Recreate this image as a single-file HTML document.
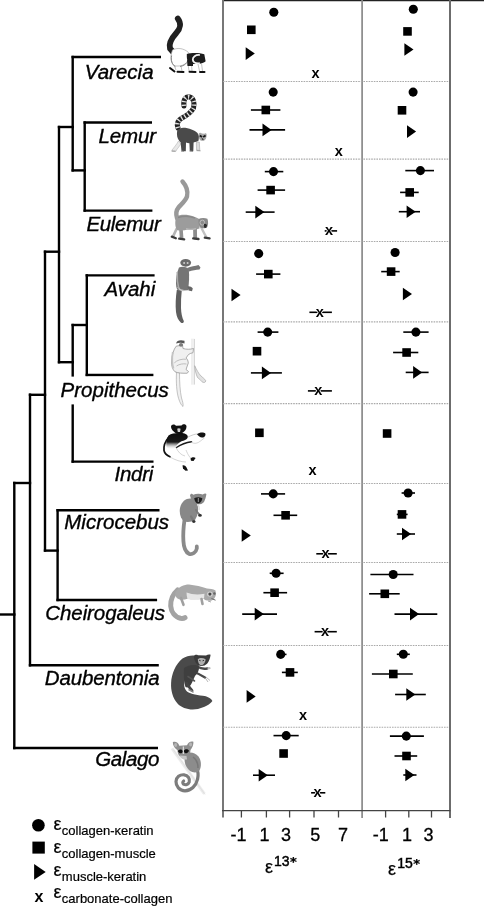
<!DOCTYPE html><html><head><meta charset="utf-8"><style>html,body{margin:0;padding:0;background:#fff;overflow:hidden;}svg{display:block;}text{font-family:"Liberation Sans",Arial,sans-serif;}</style></head><body>
<svg width="484" height="909" viewBox="0 0 484 909">
<rect width="484" height="909" fill="#fff"/>
<g stroke="#3a3a3a" fill="none">
<line x1="222" y1="0.6" x2="484" y2="0.6" stroke="#222" stroke-width="1.4"/>
<line x1="223" y1="0" x2="223" y2="817.5" stroke-width="2" stroke="#777"/>
<line x1="362.1" y1="0" x2="362.1" y2="818" stroke-width="1.7" stroke="#8a8a8a"/>
<line x1="450" y1="0" x2="450" y2="818" stroke-width="2" stroke="#6c6c6c"/>
<line x1="222" y1="810.6" x2="450.4" y2="810.6" stroke-width="1.3" stroke="#444"/>
<line x1="241.4" y1="810.6" x2="241.4" y2="817.5" stroke-width="1.3" stroke="#444"/>
<line x1="266.4" y1="810.6" x2="266.4" y2="817.5" stroke-width="1.3" stroke="#444"/>
<line x1="289.6" y1="810.6" x2="289.6" y2="817.5" stroke-width="1.3" stroke="#444"/>
<line x1="314.0" y1="810.6" x2="314.0" y2="817.5" stroke-width="1.3" stroke="#444"/>
<line x1="338.5" y1="810.6" x2="338.5" y2="817.5" stroke-width="1.3" stroke="#444"/>
<line x1="385.6" y1="810.6" x2="385.6" y2="817.5" stroke-width="1.3" stroke="#444"/>
<line x1="408.8" y1="810.6" x2="408.8" y2="817.5" stroke-width="1.3" stroke="#444"/>
<line x1="431.5" y1="810.6" x2="431.5" y2="817.5" stroke-width="1.3" stroke="#444"/>
</g>
<g stroke="#aaa" stroke-width="1.1" stroke-dasharray="1.6,1.0">
<line x1="223" y1="81.5" x2="449" y2="81.5"/>
<line x1="223" y1="159.1" x2="449" y2="159.1"/>
<line x1="223" y1="241.5" x2="449" y2="241.5"/>
<line x1="223" y1="321.9" x2="449" y2="321.9"/>
<line x1="223" y1="403.6" x2="449" y2="403.6"/>
<line x1="223" y1="483.5" x2="449" y2="483.5"/>
<line x1="223" y1="562.5" x2="449" y2="562.5"/>
<line x1="223" y1="645.5" x2="449" y2="645.5"/>
<line x1="223" y1="727.2" x2="449" y2="727.2"/>
</g>
<g stroke="#000" stroke-width="2.4" stroke-linecap="square" fill="none">
<line x1="72.7" y1="57" x2="159.8" y2="57"/>
<line x1="72.7" y1="57" x2="72.7" y2="170.4"/>
<line x1="72.7" y1="170.4" x2="84.7" y2="170.4"/>
<line x1="84.7" y1="122.5" x2="84.7" y2="210.6"/>
<line x1="84.7" y1="122.5" x2="150.8" y2="122.5"/>
<line x1="84.7" y1="210.6" x2="151.2" y2="210.6"/>
<line x1="59" y1="127" x2="72.7" y2="127"/>
<line x1="59" y1="127" x2="59" y2="362.2"/>
<line x1="59" y1="362.2" x2="72.7" y2="362.2"/>
<line x1="72.7" y1="325" x2="72.7" y2="461.6"/>
<line x1="72.7" y1="325" x2="86.8" y2="325"/>
<line x1="86.8" y1="275.4" x2="86.8" y2="375"/>
<line x1="86.8" y1="275.4" x2="153.4" y2="275.4"/>
<line x1="86.8" y1="375" x2="152.2" y2="375"/>
<line x1="72.7" y1="461.6" x2="152.3" y2="461.6"/>
<line x1="45" y1="251.7" x2="59" y2="251.7"/>
<line x1="45" y1="251.7" x2="45" y2="550.6"/>
<line x1="45" y1="550.6" x2="57.6" y2="550.6"/>
<line x1="57.6" y1="510.2" x2="57.6" y2="600"/>
<line x1="57.6" y1="510.2" x2="158.3" y2="510.2"/>
<line x1="57.6" y1="600" x2="155.9" y2="600"/>
<line x1="30" y1="394.8" x2="45" y2="394.8"/>
<line x1="30" y1="394.8" x2="30" y2="665.2"/>
<line x1="30" y1="665.2" x2="157.6" y2="665.2"/>
<line x1="14.3" y1="483" x2="30" y2="483"/>
<line x1="14.3" y1="483" x2="14.3" y2="748"/>
<line x1="14.3" y1="748" x2="156.8" y2="748"/>
<line x1="-2" y1="614.5" x2="14.3" y2="614.5"/>
</g>
<rect x="60" y="376.6" width="110.5" height="27.8" fill="#fff"/>
<g font-style="italic" font-size="20.5" fill="#000" stroke="#000" stroke-width="0.35">
<text x="84.8" y="79.4" letter-spacing="0">Varecia</text>
<text x="98.5" y="142.7" letter-spacing="-0.15">Lemur</text>
<text x="86.5" y="230.5" letter-spacing="-0.35">Eulemur</text>
<text x="104.4" y="296.4" letter-spacing="0">Avahi</text>
<text x="60.6" y="397.2" letter-spacing="0">Propithecus</text>
<text x="114.6" y="481.4" letter-spacing="-0.3">Indri</text>
<text x="64.3" y="528.9" letter-spacing="0">Microcebus</text>
<text x="45.3" y="620.4" letter-spacing="-0.09">Cheirogaleus</text>
<text x="44.8" y="685.4" letter-spacing="-0.15">Daubentonia</text>
<text x="95.2" y="766.4" letter-spacing="-0.4">Galago</text>
</g>
<circle cx="273.8" cy="12.3" r="4.55" fill="#000"/>
<rect x="247.00" y="25.50" width="8.6" height="8.6" fill="#000"/>
<path d="M245.70 47.30L254.80 53.60L245.70 59.90Z" fill="#000"/>
<text x="315.6" y="78.20" font-size="14.5" font-weight="bold" text-anchor="middle" fill="#000" stroke="#fff" stroke-width="1.6" paint-order="stroke">x</text>
<line x1="250.9" y1="110" x2="280.4" y2="110" stroke="#000" stroke-width="1.6"/>
<line x1="249.5" y1="129.9" x2="285.1" y2="129.9" stroke="#000" stroke-width="1.6"/>
<circle cx="273.2" cy="92.1" r="4.55" fill="#000"/>
<rect x="261.50" y="105.70" width="8.6" height="8.6" fill="#000"/>
<path d="M262.50 123.60L271.60 129.90L262.50 136.20Z" fill="#000"/>
<text x="338.9" y="156.10" font-size="14.5" font-weight="bold" text-anchor="middle" fill="#000" stroke="#fff" stroke-width="1.6" paint-order="stroke">x</text>
<line x1="264.8" y1="171.6" x2="283.3" y2="171.6" stroke="#000" stroke-width="1.6"/>
<line x1="257.6" y1="190.1" x2="285.1" y2="190.1" stroke="#000" stroke-width="1.6"/>
<line x1="245.7" y1="212.1" x2="274.6" y2="212.1" stroke="#000" stroke-width="1.6"/>
<line x1="324.7" y1="230.9" x2="337.1" y2="230.9" stroke="#000" stroke-width="1.6"/>
<circle cx="273.5" cy="171.6" r="4.55" fill="#000"/>
<rect x="266.30" y="185.80" width="8.6" height="8.6" fill="#000"/>
<path d="M255.30 205.80L264.40 212.10L255.30 218.40Z" fill="#000"/>
<text x="329" y="235.10" font-size="14.5" font-weight="bold" text-anchor="middle" fill="#000" stroke="#fff" stroke-width="1.6" paint-order="stroke">x</text>
<line x1="256.1" y1="274.1" x2="280.4" y2="274.1" stroke="#000" stroke-width="1.6"/>
<line x1="309.4" y1="312.3" x2="331.9" y2="312.3" stroke="#000" stroke-width="1.6"/>
<circle cx="258.7" cy="253.6" r="4.55" fill="#000"/>
<rect x="264.00" y="269.80" width="8.6" height="8.6" fill="#000"/>
<path d="M231.50 288.70L240.60 295.00L231.50 301.30Z" fill="#000"/>
<text x="319.8" y="316.50" font-size="14.5" font-weight="bold" text-anchor="middle" fill="#000" stroke="#fff" stroke-width="1.6" paint-order="stroke">x</text>
<line x1="257.6" y1="332.1" x2="278.4" y2="332.1" stroke="#000" stroke-width="1.6"/>
<line x1="250.9" y1="372.9" x2="281.9" y2="372.9" stroke="#000" stroke-width="1.6"/>
<line x1="307.9" y1="390.9" x2="331.9" y2="390.9" stroke="#000" stroke-width="1.6"/>
<circle cx="267.7" cy="332.1" r="4.55" fill="#000"/>
<rect x="252.70" y="346.90" width="8.6" height="8.6" fill="#000"/>
<path d="M261.90 366.60L271.00 372.90L261.90 379.20Z" fill="#000"/>
<text x="318.3" y="395.10" font-size="14.5" font-weight="bold" text-anchor="middle" fill="#000" stroke="#fff" stroke-width="1.6" paint-order="stroke">x</text>
<rect x="255.10" y="428.50" width="8.6" height="8.6" fill="#000"/>
<text x="312.5" y="475.10" font-size="14.5" font-weight="bold" text-anchor="middle" fill="#000" stroke="#fff" stroke-width="1.6" paint-order="stroke">x</text>
<line x1="261" y1="493.9" x2="285.1" y2="493.9" stroke="#000" stroke-width="1.6"/>
<line x1="273.5" y1="515.3" x2="297.2" y2="515.3" stroke="#000" stroke-width="1.6"/>
<line x1="316.3" y1="553.8" x2="336.8" y2="553.8" stroke="#000" stroke-width="1.6"/>
<circle cx="273.2" cy="493.9" r="4.55" fill="#000"/>
<rect x="281.30" y="511.00" width="8.6" height="8.6" fill="#000"/>
<path d="M241.70 529.20L250.80 535.50L241.70 541.80Z" fill="#000"/>
<text x="325.6" y="558.00" font-size="14.5" font-weight="bold" text-anchor="middle" fill="#000" stroke="#fff" stroke-width="1.6" paint-order="stroke">x</text>
<line x1="269.7" y1="573.3" x2="283.6" y2="573.3" stroke="#000" stroke-width="1.6"/>
<line x1="263.4" y1="592.7" x2="287.1" y2="592.7" stroke="#000" stroke-width="1.6"/>
<line x1="242.2" y1="614.1" x2="277" y2="614.1" stroke="#000" stroke-width="1.6"/>
<line x1="314.6" y1="631.7" x2="336.8" y2="631.7" stroke="#000" stroke-width="1.6"/>
<circle cx="276.1" cy="573.3" r="4.55" fill="#000"/>
<rect x="270.30" y="588.40" width="8.6" height="8.6" fill="#000"/>
<path d="M254.70 607.80L263.80 614.10L254.70 620.40Z" fill="#000"/>
<text x="325" y="635.90" font-size="14.5" font-weight="bold" text-anchor="middle" fill="#000" stroke="#fff" stroke-width="1.6" paint-order="stroke">x</text>
<line x1="279" y1="654.4" x2="286.5" y2="654.4" stroke="#000" stroke-width="1.6"/>
<line x1="281.9" y1="672.4" x2="297.8" y2="672.4" stroke="#000" stroke-width="1.6"/>
<circle cx="280.7" cy="654.4" r="4.55" fill="#000"/>
<rect x="285.70" y="668.10" width="8.6" height="8.6" fill="#000"/>
<path d="M246.60 690.10L255.70 696.40L246.60 702.70Z" fill="#000"/>
<text x="303" y="720.00" font-size="14.5" font-weight="bold" text-anchor="middle" fill="#000" stroke="#fff" stroke-width="1.6" paint-order="stroke">x</text>
<line x1="273.5" y1="735.6" x2="298.7" y2="735.6" stroke="#000" stroke-width="1.6"/>
<line x1="253" y1="775.2" x2="275" y2="775.2" stroke="#000" stroke-width="1.6"/>
<line x1="311.1" y1="792.8" x2="325.3" y2="792.8" stroke="#000" stroke-width="1.6"/>
<circle cx="286.2" cy="735.6" r="4.55" fill="#000"/>
<rect x="279.30" y="749.20" width="8.6" height="8.6" fill="#000"/>
<path d="M258.70 768.90L267.80 775.20L258.70 781.50Z" fill="#000"/>
<text x="317.5" y="797.00" font-size="14.5" font-weight="bold" text-anchor="middle" fill="#000" stroke="#fff" stroke-width="1.6" paint-order="stroke">x</text>
<circle cx="413.3" cy="9.3" r="4.55" fill="#000"/>
<rect x="403.20" y="27.10" width="8.6" height="8.6" fill="#000"/>
<path d="M404.40 43.20L413.50 49.50L404.40 55.80Z" fill="#000"/>
<circle cx="413.1" cy="92.1" r="4.55" fill="#000"/>
<rect x="397.70" y="106.00" width="8.6" height="8.6" fill="#000"/>
<path d="M407.00 125.30L416.10 131.60L407.00 137.90Z" fill="#000"/>
<line x1="405.3" y1="170.6" x2="434" y2="170.6" stroke="#000" stroke-width="1.6"/>
<line x1="400.1" y1="192.4" x2="418.7" y2="192.4" stroke="#000" stroke-width="1.6"/>
<line x1="398.8" y1="211.7" x2="420" y2="211.7" stroke="#000" stroke-width="1.6"/>
<circle cx="420.4" cy="170.6" r="4.55" fill="#000"/>
<rect x="405.40" y="188.10" width="8.6" height="8.6" fill="#000"/>
<path d="M406.60 205.40L415.70 211.70L406.60 218.00Z" fill="#000"/>
<line x1="381.2" y1="271.6" x2="399.7" y2="271.6" stroke="#000" stroke-width="1.6"/>
<circle cx="395.1" cy="252.5" r="4.55" fill="#000"/>
<rect x="386.80" y="267.30" width="8.6" height="8.6" fill="#000"/>
<path d="M402.90 287.70L412.00 294.00L402.90 300.30Z" fill="#000"/>
<line x1="403.3" y1="332.1" x2="428.6" y2="332.1" stroke="#000" stroke-width="1.6"/>
<line x1="393.1" y1="352.5" x2="418.3" y2="352.5" stroke="#000" stroke-width="1.6"/>
<line x1="405.7" y1="372.4" x2="428.6" y2="372.4" stroke="#000" stroke-width="1.6"/>
<circle cx="415.9" cy="332.1" r="4.55" fill="#000"/>
<rect x="402.30" y="348.20" width="8.6" height="8.6" fill="#000"/>
<path d="M413.10 366.10L422.20 372.40L413.10 378.70Z" fill="#000"/>
<rect x="382.80" y="429.20" width="8.6" height="8.6" fill="#000"/>
<line x1="401.6" y1="493" x2="415" y2="493" stroke="#000" stroke-width="1.6"/>
<line x1="396.8" y1="514.4" x2="407.6" y2="514.4" stroke="#000" stroke-width="1.6"/>
<line x1="396.8" y1="534" x2="415" y2="534" stroke="#000" stroke-width="1.6"/>
<circle cx="408.1" cy="493" r="4.55" fill="#000"/>
<rect x="397.70" y="510.10" width="8.6" height="8.6" fill="#000"/>
<path d="M402.00 527.70L411.10 534.00L402.00 540.30Z" fill="#000"/>
<line x1="370.4" y1="574.5" x2="413.5" y2="574.5" stroke="#000" stroke-width="1.6"/>
<line x1="369.1" y1="593.8" x2="399.7" y2="593.8" stroke="#000" stroke-width="1.6"/>
<line x1="394.5" y1="614.1" x2="437.3" y2="614.1" stroke="#000" stroke-width="1.6"/>
<circle cx="393.2" cy="574.5" r="4.55" fill="#000"/>
<rect x="380.50" y="589.50" width="8.6" height="8.6" fill="#000"/>
<path d="M410.00 607.80L419.10 614.10L410.00 620.40Z" fill="#000"/>
<line x1="396.8" y1="654.3" x2="409.8" y2="654.3" stroke="#000" stroke-width="1.6"/>
<line x1="371.9" y1="674" x2="412.8" y2="674" stroke="#000" stroke-width="1.6"/>
<line x1="395.1" y1="694.5" x2="425.8" y2="694.5" stroke="#000" stroke-width="1.6"/>
<circle cx="403.3" cy="654.3" r="4.55" fill="#000"/>
<rect x="389.00" y="669.70" width="8.6" height="8.6" fill="#000"/>
<path d="M406.30 688.20L415.40 694.50L406.30 700.80Z" fill="#000"/>
<line x1="389.9" y1="736.1" x2="423.9" y2="736.1" stroke="#000" stroke-width="1.6"/>
<line x1="394.5" y1="756" x2="417.2" y2="756" stroke="#000" stroke-width="1.6"/>
<line x1="403.3" y1="775" x2="416.5" y2="775" stroke="#000" stroke-width="1.6"/>
<circle cx="406.3" cy="736.1" r="4.55" fill="#000"/>
<rect x="402.20" y="751.70" width="8.6" height="8.6" fill="#000"/>
<path d="M405.30 768.70L414.40 775.00L405.30 781.30Z" fill="#000"/>
<g font-size="18" fill="#000" text-anchor="middle" stroke="#000" stroke-width="0.3">
<text x="238.4" y="840.5">-1</text>
<text x="264.6" y="840.5">1</text>
<text x="286" y="840.5">3</text>
<text x="315.2" y="840.5">5</text>
<text x="342.9" y="840.5">7</text>
<text x="380.8" y="840.5">-1</text>
<text x="406.9" y="840.5">1</text>
<text x="428.5" y="840.5">3</text>
</g>
<text x="265" y="872.8" font-size="18" fill="#000" stroke="#000" stroke-width="0.25">ε<tspan font-size="14" dy="-6.6" dx="1" stroke-width="0.45">13</tspan><tspan font-family="DejaVu Sans" font-weight="bold" font-size="13" dy="-0.3" dx="0.5">*</tspan></text>
<text x="388.1" y="875" font-size="18" fill="#000" stroke="#000" stroke-width="0.25">ε<tspan font-size="14" dy="-6.6" dx="1" stroke-width="0.45">15</tspan><tspan font-family="DejaVu Sans" font-weight="bold" font-size="13" dy="-0.3" dx="0.5">*</tspan></text>
<circle cx="38.4" cy="825.3" r="6.3" fill="#000"/>
<rect x="32.4" y="841.6" width="12.4" height="12" fill="#000"/>
<path d="M34.1 864.1L45.7 872L34.1 879.8Z" fill="#000"/>
<text x="39" y="902" font-size="16" font-weight="bold" text-anchor="middle" fill="#000">x</text>
<text x="53.6" y="829.5" font-size="18" fill="#000" stroke="#000" stroke-width="0.2">ε<tspan font-size="13" dy="5" dx="0.2">collagen-κeratin</tspan></text>
<text x="53.6" y="852.6" font-size="18" fill="#000" stroke="#000" stroke-width="0.2">ε<tspan font-size="13" dy="5" dx="0.2">collagen-muscle</tspan></text>
<text x="53.6" y="876" font-size="18" fill="#000" stroke="#000" stroke-width="0.2">ε<tspan font-size="13" dy="5" dx="0.2">muscle-keratin</tspan></text>
<text x="53.6" y="898.2" font-size="18" fill="#000" stroke="#000" stroke-width="0.2">ε<tspan font-size="13" dy="5" dx="0.2">carbonate-collagen</tspan></text>
<g id="varecia">
<path d="M177.8 18.6 C181.3 23 180.6 28.5 176.3 33 C171.3 38.5 168.6 43.5 170 48.5 L173.5 52.5" stroke="#202020" stroke-width="5.8" fill="none" stroke-linecap="round"/>
<path d="M172.5 50 C177 47.5 183 48 188 52 L190 55 L187 62 C185 65 180 66.5 176 66 C172 65.5 170.5 60 171 55 Z" fill="#fff" stroke="#aaa" stroke-width="0.7"/>
<path d="M186.8 54 C192 52.3 199.5 52.7 204.3 54.3 L205.6 61.2 C203.5 63.6 198 64.2 191.5 64 C188.5 63.5 186.5 61.5 186.8 54 Z" fill="#1c1c1c"/>
<path d="M199.8 55 C195.5 54.6 192.6 57 192.8 59.6 C193.1 62.2 195.8 63.6 199.8 63.2" fill="none" stroke="#f2f2f2" stroke-width="1.8"/>
<path d="M171.6 55.5 C170.6 60.5 172 64.5 175.5 66.8 M180 66.5 C183 66 185.5 64.5 187 62.5" fill="none" stroke="#777" stroke-width="0.9"/>
<path d="M188 64 L189 71 M191.5 64 L192 71 M198 64 L199.5 71 M201.5 63.5 L202.5 71" stroke="#aaa" stroke-width="0.7"/>
<path d="M170 68 L174.5 71.5 M177.5 71.8 L183.5 72 M189.5 71.8 L195.5 72 M200 72 L204.5 72" stroke="#111" stroke-width="2" stroke-linecap="round"/>
<path d="M187 60 L187.5 66 L193 66 L193 63 Z" fill="#1c1c1c"/>
<path d="M174 65 L176 70 M181 66 L182 71" stroke="#999" stroke-width="0.6"/>
</g>
<g id="lemur">
<path d="M183.9 106 C183 99 186 96.5 189 96.8 C193.5 97.5 195 103 193.5 108.2 C191.5 112 186 116 181.6 118.2 C177.5 120.5 176.5 124 178 128" stroke="#222" stroke-width="5" fill="none" stroke-linecap="round"/>
<path d="M183.9 106 C183 99 186 96.5 189 96.8 C193.5 97.5 195 103 193.5 108.2 C191.5 112 186 116 181.6 118.2 C177.5 120.5 176.5 124 178 128" stroke="#e0e0e0" stroke-width="4.6" fill="none" stroke-dasharray="1.3,2.4"/>
<path d="M178.5 141 C176.5 144.5 174 147.5 172 150 L172.5 151.3 L176 151.3 L176.5 150 C178 148 179.5 146 181 144 Z" fill="#e8e8e8" stroke="#aaa" stroke-width="0.5"/>
<path d="M177.2 130.6 C179 128.6 181 127.8 183.2 127.8 C186 127.8 189 128.4 191.5 129.4 C194 130.4 196 131.5 197.5 133 L199 136 L198.6 140.6 C197.6 141.6 195.5 142.2 193.6 142.4 L193.3 151.2 L189.8 151.2 L189.4 143.2 C188 143.2 187 142.8 186 142.5 L185.8 151.2 L181.5 151.2 L180.6 142.3 C179 141 177.8 139 177.2 136.5 C176.8 134.5 176.9 132.5 177.2 130.6 Z" fill="#4a4a4a"/>
<path d="M196.3 142.2 L196.6 150 L199.8 150.6 L199.3 142 Z" fill="#ddd" stroke="#999" stroke-width="0.5"/>
<path d="M198.5 134 C199.5 132.5 201 132.6 201.8 133.6 L204.5 133.8 C205.3 133 206.3 133.2 206.6 134 C206.8 136 206.4 138.5 205 140 C203.8 141 201.5 141.2 200.2 140.2 C199 139 198.5 136.5 198.5 134 Z" fill="#a8a8a8"/>
<path d="M199.8 135.4 L202 137 M203.2 137 L205.6 135.4" stroke="#1a1a1a" stroke-width="1.8"/>
<path d="M201.8 138.6 L203.4 139.8" stroke="#333" stroke-width="1.2"/>
<path d="M181 151 L184 151.5 M189.5 151 L193 151.5 M196.5 150.6 L200.5 150.8 M171.5 151 L175.5 151.2" stroke="#999" stroke-width="1"/>
</g>
<g id="eulemur">
<path d="M182.5 181.5 C186.5 186 188 192 187 196.5 C185.5 201 181 204.5 178.5 207.5 C176 210.5 175.8 214 177 218" stroke="#999" stroke-width="4.4" fill="none" stroke-linecap="round"/>
<path d="M176.5 229 L173 236.6" stroke="#b5b5b5" stroke-width="2.6" stroke-linecap="round"/>
<path d="M181 229.5 L181.6 238" stroke="#909090" stroke-width="3.6" stroke-linecap="round"/>
<path d="M195 228.5 L195.2 237.6" stroke="#8c8c8c" stroke-width="3.8" stroke-linecap="round"/>
<path d="M201.5 228 C203 231 204.5 234 206 236.5" stroke="#c2c2c2" stroke-width="2.4" stroke-linecap="round" fill="none"/>
<path d="M176.2 216.4 C180 214.2 188 214.3 193.5 216.4 C196.5 217.4 198.5 218.2 199.8 219.5 L199.5 228.5 C196 229.8 192 230.2 188 229.6 C184 230.6 180 231 177 230 C175 227 174.8 221 176.2 216.4 Z" fill="#9c9c9c"/>
<path d="M178 217.5 C183 215.8 190 216 195 218" stroke="#888" stroke-width="1.5" fill="none"/>
<path d="M186 228.8 C189 229.6 193 229.5 196 228.6" stroke="#b8b8b8" stroke-width="1.4" fill="none"/>
<path d="M198.5 219 C201 217.8 205 217.8 207.4 218.8 C208.4 221.5 208.3 224.8 207.3 227 C205.8 228.5 203 228.6 200.5 227.8 C198.8 226 198.2 222.5 198.5 219 Z" fill="#8a8a8a"/>
<ellipse cx="202.3" cy="222.6" rx="2.3" ry="2.5" fill="none" stroke="#bdbdbd" stroke-width="1"/>
<path d="M204.2 223.8 C205.5 223.4 206.8 224.2 207 225.5 L206.2 228 L204.3 227.8 C203.8 226.5 203.8 225 204.2 223.8 Z" fill="#2a2a2a"/>
<path d="M171.8 236.6 L175.8 238.2 M179.2 238.6 L184.2 239.3 M193.2 238.4 L198.5 239 M204.8 237.6 L209.6 238.4" stroke="#3c3c3c" stroke-width="2.3" stroke-linecap="round"/>
</g>
<g id="avahi">
<path d="M176.8 290 C175.7 297 175.3 305 176 312 C176.6 317 178.5 320.5 181 322.8 C182.5 323.6 184 322.8 183.8 321 C182 317.5 181.2 313 181 308 C180.8 302 181.2 296 181.8 290 Z" fill="#5e5e5e"/>
<path d="M179 267.5 C177 272 175.8 278 176 284 C176.3 288 177 290 178.5 290.8 L188 290.3 C189 284 189.5 276 188.8 269 C186 266.5 182 266 179 267.5 Z" fill="#757575"/>
<path d="M178 287 C179 289.5 181 290.5 183.5 290.5" stroke="#c8c8c8" stroke-width="1.6" fill="none"/>
<path d="M187 268 C191 266.5 195 266 198.5 265 L200.5 267.5 L199.5 269.5 C196 269.5 192 270.5 189 271.5 Z" fill="#777"/>
<path d="M187.5 286.5 C189.5 286 191.5 287 192.8 288.5 L192 291.3 L188.5 290.5 Z" fill="#666"/>
<ellipse cx="185.7" cy="262.8" rx="5.4" ry="3.9" fill="#6a6a6a"/>
<circle cx="184.1" cy="262.9" r="1" fill="#ccc"/><circle cx="187.6" cy="262.9" r="1" fill="#ccc"/>
<path d="M177.2 272 C177 278 177.5 284 178.8 289" stroke="#aaa" stroke-width="1.5" fill="none"/>
</g>
<g id="propithecus">
<rect x="191" y="338.7" width="3.6" height="46" fill="#efefef"/>
<path d="M194.5 339 L194.5 384.5" stroke="#cfcfcf" stroke-width="0.8"/>
<path d="M176.5 372.5 C176 382 176.6 392 178.6 398.5 C180 403 181.5 405.5 183 406.5 C183.5 404.5 182.5 401 181.5 398 C180 391 179.5 382 179.5 372.5 Z" fill="#f0f0f0" stroke="#a0a0a0" stroke-width="0.6"/>
<path d="M176.2 346.2 C173.5 349.5 172 355 171.5 361 C171.3 366 172.5 369.5 175 371.8 C178 373.3 183 373.3 187.3 373.2 L188.5 371.5 L186 369.5 L188.3 363 C188 360 187 358.5 186 358 L188.5 354.5 C190 353.5 191.5 353 193 352.7 L193.5 348.5 C190 349.5 186.5 349.5 183 348.5 L182.5 345 Z" fill="#f0f0f0" stroke="#939393" stroke-width="0.75"/>
<path d="M174.3 362.9 C177 360 182 358.8 186.4 359.2 M176.5 366 C179.5 364 183 363.5 186.5 364" stroke="#a8a8a8" stroke-width="0.7" fill="none"/>
<path d="M172.8 352 C172 357 172 364 173.5 368.5" stroke="#c4c4c4" stroke-width="1.8" fill="none"/>
<path d="M194.7 365.7 C196.5 369.5 198.5 373.5 201 376 C202.5 377.5 204.5 378.5 205.8 380.8 C205.5 382.8 203.5 383 202 381.8 C200.5 380 199 378.5 197.5 377.5 C196 374.5 195 370 194.7 365.7 Z" fill="#e2e2e2" stroke="#a0a0a0" stroke-width="0.6"/>
<path d="M176.2 343.2 C176.5 340.5 180.5 339.4 184.5 340.8 L184.5 343.4 C181.5 342.6 178.8 342.6 176.2 343.6 Z" fill="#555"/>
<ellipse cx="181" cy="344.9" rx="2.1" ry="1.8" fill="#7a7a7a"/>
</g>
<g id="indri">
<defs><linearGradient id="indg" x1="0" y1="0" x2="0" y2="1"><stop offset="0" stop-color="#0d0d0d"/><stop offset="0.55" stop-color="#1a1a1a"/><stop offset="1" stop-color="#fff" stop-opacity="0"/></linearGradient></defs>
<path d="M171 426.5 C171.3 424 174.5 423.8 176 425.8 L181.5 425.6 C182.8 423.6 186 423.8 186.5 426.2 C186.6 429 185 431 183 432.4 L180.5 433.8 L177 433.8 C174 432.2 171 429.5 171 426.5 Z" fill="#111"/>
<path d="M177.2 428.8 C178 428 179.8 428 180.6 428.8 L180 432 L177.8 432 Z" fill="#d0d0d0"/>
<path d="M168.5 435.5 C171.5 433.3 176 432.8 181 433 C184.5 433.2 187.5 434 187.8 436.8 C187.6 439.5 184.5 440.5 181 441.5 C178 443 176 446 174 449 C171.5 450 168.5 449.5 166.5 447 C165.8 443 166.5 438.5 168.5 435.5 Z" fill="url(#indg)"/>
<path d="M168.5 437.5 C165.5 441 163.5 446 164 450.5 C164.6 453.5 167 455.5 170 456.8" stroke="#111" stroke-width="1.7" fill="none" stroke-linecap="round"/>
<path d="M176.5 447.5 C181 444.5 186.5 442.5 191.5 441.8" stroke="#1a1a1a" stroke-width="1.5" fill="none" stroke-linecap="round"/>
<path d="M188 437 C192 435 195 434 197.5 434" stroke="#aaa" stroke-width="0.6" fill="none"/>
<path d="M197 434.2 C199 432.5 203.5 432 205.3 433.5 C206 435.5 204.5 437.6 202 437.5 C200 437.3 198.5 435.8 197 434.2 Z" fill="#111"/>
<path d="M170 457 C175 460 181 462 186 462 M186 450 C188 455 190 458 192 459 M191 442 C197 446 201 440 204.5 438 M176 447.5 C178 452 181 455 185 456" stroke="#bbb" stroke-width="0.6" fill="none"/>
<path d="M190.5 458.5 C192 456.8 194.5 456.8 195.6 458 L193.5 461 L191 460.8 Z" fill="#111"/>
<path d="M182.5 465.5 C184 465 185.5 466 186.5 467.5 L188 470.5 L185.5 470.7 L183 468.5 Z" fill="#111"/>
</g>
<g id="microcebus">
<path d="M184.5 520 C183.5 527 183 535 183.4 541 C183.7 547 185.5 552 189 553.8 C192.5 554.8 196 552.5 196.8 548.5 L196.8 546.5" stroke="#8a8a8a" stroke-width="3.8" fill="none" stroke-linecap="round"/>
<path d="M180 508 C181.5 501 186.5 498 191 498.5 L197 503 C198.5 507 198.5 512 197 516 L195 520 C192 522 187.5 522.5 184 521.5 C181 519 179 514 180 508 Z" fill="#888"/>
<path d="M190 495.5 C190.5 493.5 192 493.3 193.2 494.8 C196 493.5 200 493.3 202.8 494.6 C204 493.3 206 493 206.4 494 C206 497 205 500 204 502 C202 504.5 198 505 195 504 C192.5 502.5 190.8 499 190 495.5 Z" fill="#888"/>
<path d="M194.2 498.2 C196.5 497 200 497 202.4 498.3 C202 501 200.5 503.3 198.3 503.8 C196 503.3 194.6 501 194.2 498.2 Z" fill="#1e1e1e"/>
<path d="M198.3 498 L198.3 502" stroke="#ccc" stroke-width="0.7"/>
<path d="M196 510 C197 512 198 513.5 199.5 514.5" stroke="#7a7a7a" stroke-width="2" fill="none" stroke-linecap="round"/>
<ellipse cx="200" cy="515.4" rx="1.8" ry="1.3" fill="#333"/>
<path d="M191 516.5 C192 518.5 193 520 194 521" stroke="#7a7a7a" stroke-width="2.2" fill="none" stroke-linecap="round"/>
<ellipse cx="193.8" cy="521.6" rx="1.7" ry="1.4" fill="#333"/>
<path d="M197.5 504 C199 506 199.5 508 199 510" stroke="#ddd" stroke-width="1.6" fill="none"/>
</g>
<g id="cheirogaleus">
<path d="M177.5 590 C173 594 170.5 600 170.7 606 C171.2 612 175 617 180.5 618.3 C182.5 618.6 184 618.3 185 617.6" stroke="#a3a3a3" stroke-width="5" fill="none" stroke-linecap="round"/>
<path d="M175.5 592 C178.5 587 184 584.6 189 584.6 C195 585.2 202 587 207 588.5 C210 588.6 213 589 215.5 590.5 L216 594.5 C215 598.5 213 600.8 209.5 600.8 C206.5 600.8 204.5 599.8 203.5 598.8 C198 599.5 192 599.6 187.5 598.8 C184 600 180 600.2 177.5 598.5 C175.5 597 175 594.5 175.5 592 Z" fill="#a9a9a9"/>
<path d="M186.5 592.6 C192 594.6 198 595 204.5 593.8 L204 598.6 C198 599.6 192 599.7 187.5 598.9 C186.8 597 186.5 594.8 186.5 592.6 Z" fill="#e6e6e6"/>
<ellipse cx="209.9" cy="594" rx="2.8" ry="2.6" fill="#d4d4d4"/>
<circle cx="209.9" cy="594.1" r="1.6" fill="#4a4a4a"/>
<ellipse cx="214.4" cy="593.5" rx="1.2" ry="1.3" fill="#666"/>
<path d="M211.5 598.5 L215.5 600.2" stroke="#666" stroke-width="1"/>
<path d="M181 598 L183.5 604.8 M201.5 599 L202.5 604" stroke="#a0a0a0" stroke-width="2.6" stroke-linecap="round"/>
<path d="M208 601 L211 602" stroke="#aaa" stroke-width="1" />
</g>
<g id="daubentonia">
<path d="M182.5 658.5 C187 655.8 192 655 196.5 656 L199 664.5 C198.5 668 197 671 194 672.5 C190 674 186.5 676 185 680 C183.5 684.5 184 688.5 187 691.5 C191 694.5 198 695 205.8 696.2 C209 697.2 211.5 699 212.4 701 C210 704.5 204 707.5 198 709 C190 710.5 182 708.5 177.5 703.5 C172.5 698 170.7 690 171.1 683 C171.5 674 175.5 664 182.5 658.5 Z" fill="#4a4a4a"/>
<path d="M193.8 656.5 C194.5 654.8 196 654.2 198 655.2 L206 655.6 C207.5 654.6 209 654.4 210.6 654.8 C210.2 658 209.3 661 207.3 663.5 C205 666 201.2 666.5 198.6 665.5 C196 664 194.3 660.8 193.8 656.5 Z" fill="#3a3a3a"/>
<path d="M197.8 659.2 C199.5 657.7 203 657.7 205.6 659.2 C205.6 662 203.6 665 201.2 665.3 C199.2 665 198 662.6 197.8 659.2 Z" fill="#b0b0b0"/>
<path d="M199.2 660.3 L200.6 660.8 M202.6 660.8 L204 660.3" stroke="#222" stroke-width="0.9"/>
<path d="M197 666.5 C200.5 668.5 204 669.5 207.5 668.3" stroke="#4a4a4a" stroke-width="2.4" fill="none" stroke-linecap="round"/>
<path d="M193 671.5 C197 673 201 675 205 677.5" stroke="#4a4a4a" stroke-width="2.2" fill="none" stroke-linecap="round"/>
<path d="M184 668 C189 665 195 664 199 666.5 C199.5 670 197.5 673.5 195 676 C193.5 679 192.5 682 191 684.5 C189.5 687 187.5 688 185.5 687 C184 683 183.5 676 184 668 Z" fill="#3f3f3f"/>
<path d="M186.5 683 C188.5 686 190 688.5 192 690.5" stroke="#444" stroke-width="2.8" fill="none" stroke-linecap="round"/>
<path d="M189 689.8 C190.5 690.5 192 691 193 692" stroke="#888" stroke-width="1.6" fill="none" stroke-linecap="round"/>
<path d="M188 676.5 C190.5 678 192.5 679.5 194.5 681" stroke="#555" stroke-width="1.6" fill="none" stroke-linecap="round"/>
<path d="M207 667.8 C208.5 666.5 210.3 666.8 210.8 668.2 C210 669.6 208.3 669.8 207 667.8 Z" fill="#bbb"/>
<path d="M205 677.5 L208 682 M206 677 L210 680.5" stroke="#999" stroke-width="0.7"/>
</g>
<g id="galago">
<path d="M172 748.4 L204.4 793.9" stroke="#ececec" stroke-width="3"/>
<path d="M173.2 749.5 L205 794.5" stroke="#d8d8d8" stroke-width="0.6"/>
<path d="M197.5 779.5 C196 786 191 790.5 185 790.8 C179.5 790.8 175.8 786 176 781.5 C176.3 777 179.8 774.5 184 774.8 C188 775.3 190.2 778.8 189.2 782 C188.2 784.8 185.5 785.3 183.6 784.2 C182.5 783.2 182.6 781.6 183.6 781" stroke="#7c7c7c" stroke-width="3.2" fill="none" stroke-linecap="round"/>
<path d="M197 770 C199 773 198 776.5 197.5 779.5" stroke="#7c7c7c" stroke-width="3.2" fill="none"/>
<path d="M186 753.5 C190 751.5 195 752.5 198.5 756.5 C201.5 760.5 201.5 766.5 199.5 770.5 C197.5 773 193 773 190 771 C186 768 184.5 763 184.5 759 Z" fill="#8c8c8c"/>
<path d="M193 757 C196 759 198 763 198 768" stroke="#777" stroke-width="1.5" fill="none"/>
<path d="M172.8 742.3 C175 741 178.5 742.5 179.3 745.8 L187 745.3 C188 742.3 191 740.8 193.4 741.8 C193.7 745 192.2 748 190.5 750 C190.5 753 189 756 186 757.2 L181 757.2 C178.5 755.7 177.5 752.7 177.5 750.2 C175 748.7 172.8 746 172.8 742.3 Z" fill="#8e8e8e"/>
<ellipse cx="175.6" cy="745" rx="1.5" ry="2" fill="#b5b5b5"/><ellipse cx="190.6" cy="744.5" rx="1.5" ry="2" fill="#b5b5b5"/>
<path d="M177.8 751 C179.5 748.8 182 749 183 751.2 C182.3 753.8 179.3 754.2 177.8 751 Z M183.6 751.2 C184.7 749 187.5 748.6 189 750.8 C187.8 754 185 754 183.6 751.2 Z" fill="#111"/>
<path d="M183.3 746.5 L183.3 754" stroke="#eee" stroke-width="1"/>
<path d="M179.5 755.5 C181 759 184 760 187 759.5 L186.5 756 Z" fill="#c5c5c5"/>
</g>

</svg></body></html>
